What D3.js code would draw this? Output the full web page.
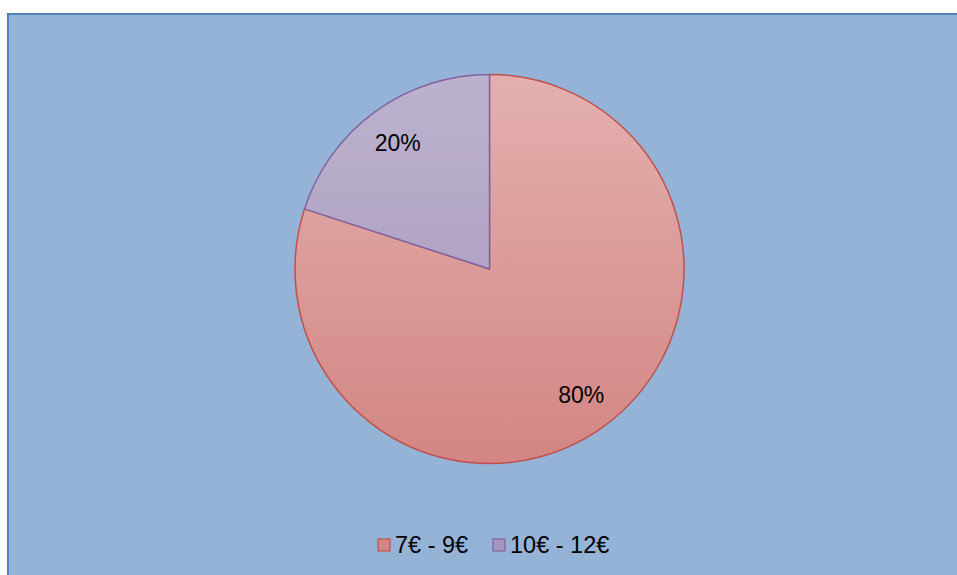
<!DOCTYPE html>
<html>
<head>
<meta charset="utf-8">
<script src="https://cdn.jsdelivr.net/npm/d3@7"></script>
<style>
  html, body { margin: 0; padding: 0; background: #fff; }
  svg { display: block; }
</style>
</head>
<body>
<div id="chart"></div>
<script>
// data
const categories = ["7€ - 9€", "10€ - 12€"];
const values = [80, 20];
const labels = ["80%", "20%"];

const W = 957, H = 575;
const cx = 489.5, cy = 269, R = 194.5;

const fills = [
    { top: "#e3b0ae", bottom: "#d38683", stroke: "#c0504d" },
    { top: "#bcb2cd", bottom: "#a695be", stroke: "#8064a2" }
];

const svg = d3.select("#chart").append("svg")
    .attr("width", W)
    .attr("height", H);

// chart area
svg.append("rect")
    .attr("x", 8).attr("y", 14)
    .attr("width", W + 10).attr("height", H + 10)
    .attr("fill", "#95b3d7")
    .attr("stroke", "#4f81bd")
    .attr("stroke-width", 2);

// vertical gradients across the pie (local coords, pie group is centred)
const defs = svg.append("defs");
fills.forEach((f, i) => {
    const g = defs.append("linearGradient")
        .attr("id", "grad" + i)
        .attr("gradientUnits", "userSpaceOnUse")
        .attr("x1", 0).attr("y1", -R)
        .attr("x2", 0).attr("y2", R);
    g.append("stop").attr("offset", "0%").attr("stop-color", f.top);
    g.append("stop").attr("offset", "100%").attr("stop-color", f.bottom);
});

const pie = d3.pie().sort(null).value(d => d);
const arcs = pie(values);
const arc = d3.arc().innerRadius(0).outerRadius(R);
const labelArc = d3.arc().innerRadius(156).outerRadius(156);

const g = svg.append("g").attr("transform", `translate(${cx},${cy})`);

g.selectAll("path.slice")
    .data(arcs)
    .join("path")
    .attr("class", "slice")
    .attr("d", arc)
    .attr("fill", (d, i) => `url(#grad${i})`)
    .attr("stroke", (d, i) => fills[i].stroke)
    .attr("stroke-width", 1.5)
    .attr("stroke-linejoin", "round");

g.selectAll("text.lbl")
    .data(arcs)
    .join("text")
    .attr("class", "lbl")
    .attr("transform", d => `translate(${labelArc.centroid(d)})`)
    .attr("text-anchor", "middle")
    .attr("dy", "0.36em")
    .attr("font-family", "Liberation Sans, Arial, sans-serif")
    .attr("font-size", 23)
    .attr("fill", "#000")
    .text((d, i) => labels[i]);

// legend
const legend = svg.append("g").attr("transform", "translate(378,553)");
const legendX = [0, 115];
const items = legend.selectAll("g")
    .data(categories)
    .join("g")
    .attr("transform", (d, i) => `translate(${legendX[i]},0)`);

items.append("rect")
    .attr("x", 0).attr("y", -14)
    .attr("width", 12).attr("height", 12)
    .attr("fill", (d, i) => fills[i].bottom)
    .attr("stroke", (d, i) => fills[i].stroke)
    .attr("stroke-width", 1.2);

items.append("text")
    .attr("x", 17).attr("y", 0)
    .attr("font-family", "Liberation Sans, Arial, sans-serif")
    .attr("font-size", 23.5)
    .attr("fill", "#000")
    .text(d => d);
</script>
</body>
</html>
